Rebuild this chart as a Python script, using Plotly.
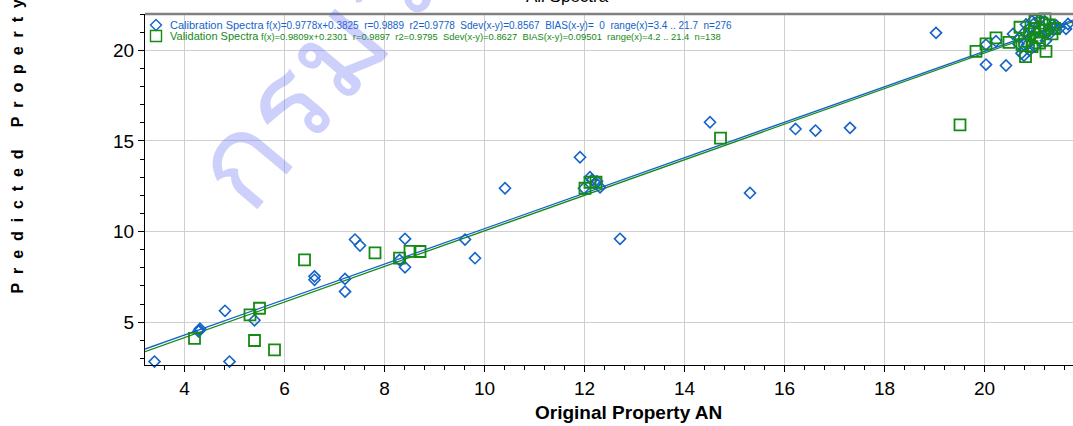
import plotly.graph_objects as go

# Calibration set: original vs predicted property
cal_x = [3.4, 4.9, 4.30, 4.31, 4.28, 4.81, 5.40, 6.60, 6.60, 7.41, 7.51, 7.21, 7.21,
         8.30, 8.41, 8.41, 9.61, 9.81, 10.41, 11.91, 11.99, 12.11, 12.23, 12.31, 12.25,
         12.15, 12.71, 14.51, 15.31, 16.22, 16.62, 17.31, 19.03, 20.03, 20.03, 20.23,
         20.43, 20.57, 20.79, 20.68, 20.74, 20.83, 20.90, 20.95, 21.00, 21.05, 21.10,
         21.15, 21.20, 21.23, 21.30, 21.35, 21.44, 21.50, 21.63, 21.67, 20.85, 20.90,
         21.00, 20.70, 20.80, 21.10, 21.25, 21.40, 20.95, 21.30]
cal_y = [2.83, 2.83, 4.55, 4.64, 4.50, 5.63, 5.11, 7.53, 7.34, 9.56, 9.23, 7.39, 6.69,
         8.44, 9.60, 8.03, 9.56, 8.53, 12.39, 14.10, 12.39, 13.00, 12.66, 12.44, 12.77,
         12.85, 9.60, 16.03, 12.13, 15.66, 15.57, 15.72, 20.96, 20.31, 19.21, 20.50,
         19.16, 20.90, 19.71, 20.35, 19.83, 21.42, 21.20, 20.80, 21.50, 21.00, 20.60,
         21.30, 21.60, 20.53, 21.10, 21.40, 21.36, 21.20, 21.18, 21.45, 20.30, 20.00,
         20.20, 20.70, 21.00, 21.70, 21.00, 21.20, 21.60, 20.90]

# Validation set
val_x = [4.20, 5.31, 5.50, 5.40, 5.80, 6.40, 7.81, 8.30, 8.51, 8.71, 12.01, 12.11,
         12.23, 14.72, 19.51, 19.83, 20.03, 20.23, 20.49, 20.71, 20.82, 21.23, 21.01,
         21.21, 20.80, 20.90, 21.00, 21.10, 21.20, 21.30, 21.40, 20.95, 21.05, 21.15,
         20.75, 21.35]
val_y = [4.11, 5.41, 5.77, 3.99, 3.47, 8.44, 8.82, 8.53, 8.91, 8.90, 12.39, 12.72,
         12.72, 15.15, 15.88, 19.94, 20.35, 20.68, 20.44, 21.27, 19.65, 19.94, 21.64,
         21.73, 20.50, 20.90, 21.20, 20.40, 21.10, 21.40, 21.20, 20.20, 20.70, 21.50,
         20.30, 20.90]

# Regression fits
cal_slope, cal_icpt = 0.9778, 0.3825
val_slope, val_icpt = 0.9809, 0.2301

x_range = [3.21, 21.77]
y_range = [2.64, 22.0]

cal_label = ("Calibration Spectra",
             "f(x)=0.9778x+0.3825\u00a0\u00a0r=0.9889\u00a0\u00a0r2=0.9778\u00a0\u00a0"
             "Sdev(x-y)=0.8567\u00a0\u00a0BIAS(x-y)=\u00a0\u00a00\u00a0\u00a0"
             "range(x)=3.4 .. 21.7\u00a0\u00a0n=276")
val_label = ("Validation Spectra",
             "f(x)=0.9809x+0.2301\u00a0\u00a0r=0.9897\u00a0\u00a0r2=0.9795\u00a0\u00a0"
             "Sdev(x-y)=0.8627\u00a0\u00a0BIAS(x-y)=0.09501\u00a0\u00a0"
             "range(x)=4.2 .. 21.4\u00a0\u00a0n=138")

BLUE = "#1463c8"
GREEN = "#158a15"

W, H = 1073, 426
ML, MR, MT, MB = 145, 0, 14, 61
PW, PH = W - ML - MR, H - MT - MB


def px_x(p):
    return (p - ML) / PW


def px_y(p):
    return (H - MB - p) / PH


fig = go.Figure()

fig.add_trace(go.Scatter(x=x_range, y=[val_slope * v + val_icpt for v in x_range],
                         mode="lines", line=dict(color=GREEN, width=1.3),
                         showlegend=False, hoverinfo="skip"))
fig.add_trace(go.Scatter(x=x_range, y=[cal_slope * v + cal_icpt for v in x_range],
                         mode="lines", line=dict(color=BLUE, width=1.3),
                         showlegend=False, hoverinfo="skip"))
fig.add_trace(go.Scatter(x=cal_x, y=cal_y, mode="markers", name=cal_label[0],
                         marker=dict(symbol="diamond-open", size=8.5, color=BLUE,
                                     line=dict(width=1.6, color=BLUE)),
                         showlegend=False, cliponaxis=False))
fig.add_trace(go.Scatter(x=val_x, y=val_y, mode="markers", name=val_label[0],
                         marker=dict(symbol="square-open", size=11, color=GREEN,
                                     line=dict(width=1.8, color=GREEN)),
                         showlegend=False, cliponaxis=False))

annotations = []
shapes = []

# legend rows: (label, colour, row centre px, symbol, stats font size)
rows = [(cal_label, BLUE, 25, "diamond", 10), (val_label, GREEN, 36, "square", 9.4)]
for (name, stats), color, ypx, sym, fsize in rows:
    annotations.append(dict(
        xref="paper", yref="paper", x=px_x(168), y=px_y(ypx), xanchor="left",
        yanchor="middle", showarrow=False,
        text=f"<span style='font-size:11px'>{name}</span> {stats}",
        font=dict(family="Liberation Sans, Arial", size=fsize, color=color)))
    if sym == "diamond":
        shapes.append(dict(type="path", xref="paper", yref="paper",
                           xsizemode="pixel", ysizemode="pixel",
                           xanchor=px_x(156), yanchor=px_y(ypx),
                           path="M -5.5 0 L 0 5.5 L 5.5 0 L 0 -5.5 Z",
                           line=dict(color=color, width=1.4)))
    else:
        shapes.append(dict(type="rect", xref="paper", yref="paper",
                           xsizemode="pixel", ysizemode="pixel",
                           xanchor=px_x(156), yanchor=px_y(ypx),
                           x0=-5.5, x1=5.5, y0=-5.5, y1=5.5,
                           line=dict(color=color, width=1.4)))

# top frame line
shapes.append(dict(type="line", xref="paper", yref="paper", x0=0, x1=1, y0=1, y1=1,
                   line=dict(color="#808080", width=2.5)))

# chart title (sits at the very top edge)
annotations.append(dict(xref="paper", yref="paper", x=px_x(567), y=px_y(8),
                        xanchor="center", yanchor="bottom", showarrow=False,
                        text="All Spectra",
                        font=dict(family="Liberation Sans, Arial", size=17, color="#000")))

# axis titles
annotations.append(dict(xref="paper", yref="paper", x=px_x(628), y=px_y(412),
                        xanchor="center", yanchor="middle", showarrow=False,
                        text="<b>Original Property AN</b>",
                        font=dict(family="Liberation Sans, Arial", size=19, color="#000")))
ytitle = "\u00a0\u00a0\u00a0\u00a0\u00a0".join(
    "\u00a0\u00a0".join(list(w)) for w in ["Predicted", "Property", "AN"])
annotations.append(dict(xref="paper", yref="paper", x=px_x(17), y=px_y(296),
                        xanchor="center", yanchor="bottom", showarrow=False,
                        textangle=-90, text=f"<b>{ytitle}</b>",
                        font=dict(family="Liberation Sans, Arial", size=16, color="#000")))

# watermark
annotations.append(dict(xref="paper", yref="paper", x=px_x(144), y=px_y(244),
                        xanchor="left", yanchor="bottom", showarrow=False,
                        textangle=-50, text="กรมวิทยาศาสตร์บริการ",
                        font=dict(size=126, color="rgba(100,110,240,0.32)")))

axis_font = dict(family="Liberation Sans, Arial", size=19, color="#000")

fig.update_layout(
    width=W, height=H,
    margin=dict(l=ML, r=MR, t=MT, b=MB),
    paper_bgcolor="white", plot_bgcolor="white",
    showlegend=False,
    xaxis=dict(range=x_range, tickmode="linear", tick0=0, dtick=2,
               showgrid=True, gridcolor="#cfcfcf", gridwidth=1,
               zeroline=False, showline=True, linecolor="#000", linewidth=1.2,
               ticks="outside", ticklen=6, tickcolor="#000", tickfont=axis_font,
               minor=dict(tick0=0, dtick=0.4, ticks="outside", ticklen=4,
                          tickcolor="#000", showgrid=False)),
    yaxis=dict(range=y_range, tickmode="linear", tick0=0, dtick=5,
               showgrid=True, gridcolor="#cfcfcf", gridwidth=1,
               zeroline=False, showline=True, linecolor="#000", linewidth=1.2,
               ticks="outside", ticklen=6, tickcolor="#000", tickfont=axis_font,
               minor=dict(tick0=0, dtick=1, ticks="outside", ticklen=4,
                          tickcolor="#000", showgrid=False)),
    annotations=annotations,
    shapes=shapes,
)

fig.write_html("out.html")
